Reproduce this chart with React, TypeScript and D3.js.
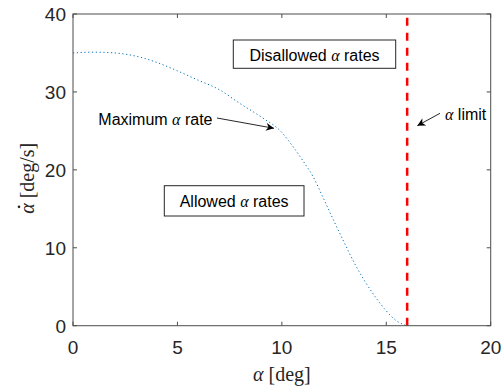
import React from "react";
import * as d3 from "d3";

const alphaDeg = [0, 1, 2, 3, 4, 5, 6, 7, 8, 9, 10, 10.5, 11, 11.5, 12, 12.5, 13, 13.5, 14, 14.5, 15, 15.5, 16];
const maxRate = [35.0, 35.1, 35.0, 34.6, 33.8, 32.7, 31.5, 30.3, 28.5, 26.8, 24.8, 23.1, 21.2, 19.1, 16.3, 13.4, 10.6, 7.9, 5.6, 3.6, 1.9, 0.6, 0];
const alphaLimit = 16;
const xTicks = [0, 5, 10, 15, 20];
const yTicks = [0, 10, 20, 30, 40];

const W = 503, H = 390;
const L = 73, R = 490.7, T = 14, B = 325.7;

export default function App() {
  const x = d3.scaleLinear().domain([0, 20]).range([L, R]);
  const y = d3.scaleLinear().domain([0, 40]).range([B, T]);
  const line = d3.line<number>().x((_, i) => x(alphaDeg[i])).y((d) => y(d)).curve(d3.curveMonotoneX);
  const axisColor = "#4d4d4d";
  const sans = "Liberation Sans, Arial, sans-serif";
  const serif = "Liberation Serif, Times New Roman, serif";
  return (
    <svg width={W} height={H} style={{ position: "absolute", left: 0, top: 0 }}>
      <defs>
        <marker id="ah" viewBox="0 0 10 10" refX="10" refY="5" markerWidth="10" markerHeight="8" markerUnits="userSpaceOnUse" orient="auto">
          <path d="M0,0 L10,5 L0,10 L3,5 Z" fill="#000" />
        </marker>
      </defs>
      <rect x={0} y={0} width={W} height={H} fill="#fff" />
      <path d={line(maxRate) || ""} fill="none" stroke="#0072BD" strokeWidth={1} strokeDasharray="1.2 2.6" />
      <line x1={x(alphaLimit)} x2={x(alphaLimit)} y1={y(0)} y2={y(40)} stroke="#ff0000" strokeWidth={2.5} strokeDasharray="8 7" />
      <rect x={L} y={T} width={R - L} height={B - T} fill="none" stroke={axisColor} strokeWidth={1} />
      {xTicks.map((t) => (
        <g key={"x" + t}>
          <line x1={x(t)} x2={x(t)} y1={B} y2={B - 4} stroke={axisColor} />
          <line x1={x(t)} x2={x(t)} y1={T} y2={T + 4} stroke={axisColor} />
          <text x={x(t)} y={354} textAnchor="middle" fontFamily={sans} fontSize={19} fill="#262626">{t}</text>
        </g>
      ))}
      {yTicks.map((t) => (
        <g key={"y" + t}>
          <line x1={L} x2={L + 4} y1={y(t)} y2={y(t)} stroke={axisColor} />
          <line x1={R} x2={R - 4} y1={y(t)} y2={y(t)} stroke={axisColor} />
          <text x={66} y={y(t) + 7} textAnchor="end" fontFamily={sans} fontSize={19} fill="#262626">{t}</text>
        </g>
      ))}
      <text x={x(10)} y={381} textAnchor="middle" fontFamily={serif} fontSize={20} fill="#262626">
        <tspan fontStyle="italic">α</tspan> [deg]
      </text>
      <g transform={`translate(34,${(T + B) / 2}) rotate(-90)`}>
        <text x={-44} y={0} fontFamily={serif} fontSize={20} fill="#262626">
          <tspan fontStyle="italic">α</tspan>{"  [deg/s]"}
        </text>
        <circle cx={-37} cy={-15} r={1.3} fill="#262626" />
      </g>
      <rect x={233.3} y={40} width={162.4} height={28.3} fill="#fff" stroke="#262626" strokeWidth={1} />
      <text x={(233.3 + 395.7) / 2} y={61} textAnchor="middle" fontFamily={sans} fontSize={16} fill="#000">
        Disallowed <tspan fontFamily={serif} fontStyle="italic">α</tspan> rates
      </text>
      <rect x={164.3} y={185.7} width={139.7} height={30.3} fill="#fff" stroke="#262626" strokeWidth={1} />
      <text x={(164.3 + 304) / 2} y={207} textAnchor="middle" fontFamily={sans} fontSize={16} fill="#000">
        Allowed <tspan fontFamily={serif} fontStyle="italic">α</tspan> rates
      </text>
      <line x1={217} y1={118} x2={274} y2={128.3} stroke="#262626" strokeWidth={1} markerEnd="url(#ah)" />
      <text x={98.3} y={125} fontFamily={sans} fontSize={16} fill="#000">
        Maximum <tspan fontFamily={serif} fontStyle="italic">α</tspan> rate
      </text>
      <line x1={440} y1={113.3} x2={417.3} y2={125.7} stroke="#262626" strokeWidth={1} markerEnd="url(#ah)" />
      <text x={445} y={120} fontFamily={sans} fontSize={16} fill="#000">
        <tspan fontFamily={serif} fontStyle="italic">α</tspan> limit
      </text>
    </svg>
  );
}
